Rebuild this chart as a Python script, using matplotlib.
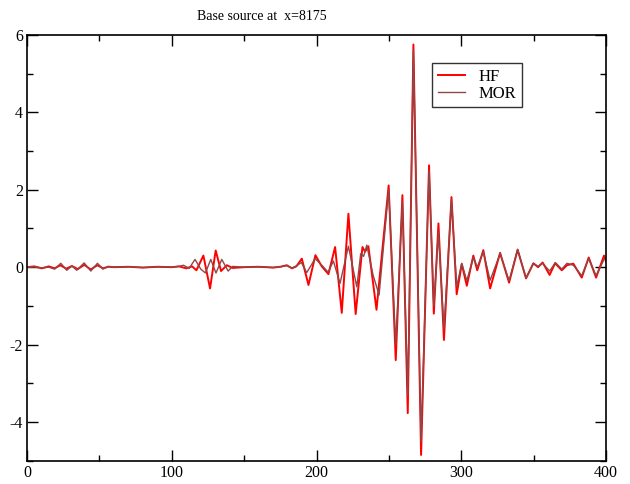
import matplotlib
matplotlib.use("Agg")
import matplotlib.pyplot as plt
from matplotlib.ticker import MultipleLocator

# HF trace (extrema of the waveform)
hf_x = [0, 5, 10, 15, 19, 23, 27, 31, 35, 39.5, 44, 48.5, 52.5, 56, 60, 70, 80, 90,
        100, 105, 110, 114, 117, 121.8, 126.4, 130.3, 134, 138, 142, 150, 160,
        170, 175, 179.4, 183, 186, 189.8, 194.4, 199.2, 203.6, 208.2, 212.8,
        217.4, 222, 227, 231.7, 233.5, 235.8, 241.4, 249.8, 254.7, 259.3, 263,
        266.9, 272.2, 277.7, 281, 284.2, 288, 293.2, 296.8, 300.3, 303.8, 308.3,
        311, 315.2, 319.9, 326.8, 333, 338.9, 344.7, 349.8, 353, 356.2, 361,
        364.8, 369.4, 373, 377.4, 383.2, 388, 393.1, 398.6, 400]
hf_y = [0, 0.02, -0.03, 0.02, -0.03, 0.05, -0.04, 0.03, -0.05, 0.06, -0.06, 0.05,
        -0.03, 0.01, 0, 0.01, -0.01, 0.01,
        0, 0.02, -0.03, 0.02, -0.08, 0.3, -0.55, 0.43, -0.1, 0.05, -0.02, 0, 0.01,
        -0.01, 0.01, 0.05, -0.03, 0.02, 0.22, -0.46, 0.31, 0.02, -0.18, 0.52,
        -1.18, 1.38, -1.21, 0.52, 0.4, 0.54, -1.1, 2.11, -2.4, 1.86, -3.77,
        5.75, -4.85, 2.63, -1.2, 1.13, -1.88, 1.81, -0.7, 0.08, -0.48, 0.3,
        -0.08, 0.44, -0.55, 0.37, -0.4, 0.45, -0.29, 0.1, 0.0, 0.12, -0.2,
        0.1, -0.08, 0.05, 0.09, -0.27, 0.25, -0.27, 0.3, 0.15]

# MOR trace
mor_x = [0, 5, 10, 15, 19, 23.3, 27.4, 31, 34.3, 39.4, 44, 48.6, 52.4, 56, 60, 70,
         80, 90, 100, 105, 108, 112, 116, 120, 123.2, 126.9, 130.5, 134.5, 138.9,
         142, 150, 160, 170, 175, 179.4, 183, 186, 189.5, 193.2, 199, 203.6, 208,
         211.6, 216.2, 222, 227.8, 230.5, 232.5, 234.7, 239, 243.2, 249.8, 254.7,
         259.3, 263, 266.9, 272.2, 277.7, 281, 284.2, 288, 293.2, 296.8, 300.3,
         303.8, 308.3, 311, 315.2, 319.9, 326.8, 333, 338.9, 344.7, 349.8, 353,
         356.2, 361, 365, 369.4, 373, 377.4, 383.2, 388, 393.1, 398.6, 400]
mor_y = [0, 0.01, -0.02, 0.0, -0.05, 0.1, -0.08, 0.03, -0.08, 0.11, -0.1, 0.1,
         -0.05, 0.02, 0, 0.01, -0.01, 0.01, 0, 0.02, 0.05, -0.03, 0.2, -0.05,
         -0.15, 0.2, -0.15, 0.2, -0.1, 0.02, 0, 0.01, -0.01, 0.01, 0.04, -0.02,
         0.03, 0.12, -0.14, 0.22, 0.05, -0.13, 0.16, -0.42, 0.54, -0.51, 0.35,
         0.28, 0.57, -0.2, -0.72, 2.0, -2.0, 1.7, -3.3, 5.6, -4.5, 2.5, -1.0,
         0.9, -1.6, 1.75, -0.5, 0.1, -0.35, 0.25, 0.0, 0.4, -0.34, 0.35, -0.35,
         0.46, -0.28, 0.1, 0.02, 0.1, -0.1, 0.12, -0.05, 0.1, 0.05, -0.22, 0.22,
         -0.22, 0.2, 0.22]

plt.rcParams['font.family'] = ['Liberation Serif', 'DejaVu Serif']
plt.rcParams['axes.unicode_minus'] = False

fig = plt.figure(figsize=(6.3, 4.84), dpi=100)
ax = fig.add_axes([0.043, 0.048, 0.919, 0.880])

ax.plot(hf_x, hf_y, color='#ff0000', lw=1.4, label='HF')
ax.plot(mor_x, mor_y, color='#8e4848', lw=1.0, label='MOR')

ax.set_xlim(0, 400)
ax.set_ylim(-5, 6)
ax.xaxis.set_major_locator(MultipleLocator(100))
ax.xaxis.set_minor_locator(MultipleLocator(50))
ax.yaxis.set_major_locator(MultipleLocator(2))
ax.yaxis.set_minor_locator(MultipleLocator(1))
ax.tick_params(which='both', direction='in', top=True, right=True,
               labelsize=11.5, width=1)
ax.tick_params(which='major', length=8, pad=3)
ax.tick_params(which='minor', length=4)
for s in ax.spines.values():
    s.set_linewidth(1.2)

fig.text(0.416, 0.965, 'Base source at  x=8175', fontsize=10,
         ha='center', va='center')

leg = ax.legend(loc='upper left', bbox_to_anchor=(0.70, 0.934), fontsize=12,
                frameon=True, fancybox=False, handlelength=1.6,
                borderpad=0.35, labelspacing=0.05, handletextpad=0.8,
                borderaxespad=0)
leg.get_frame().set_edgecolor('black')
leg.get_frame().set_linewidth(1.0)

fig.savefig('out.png', dpi=100)
